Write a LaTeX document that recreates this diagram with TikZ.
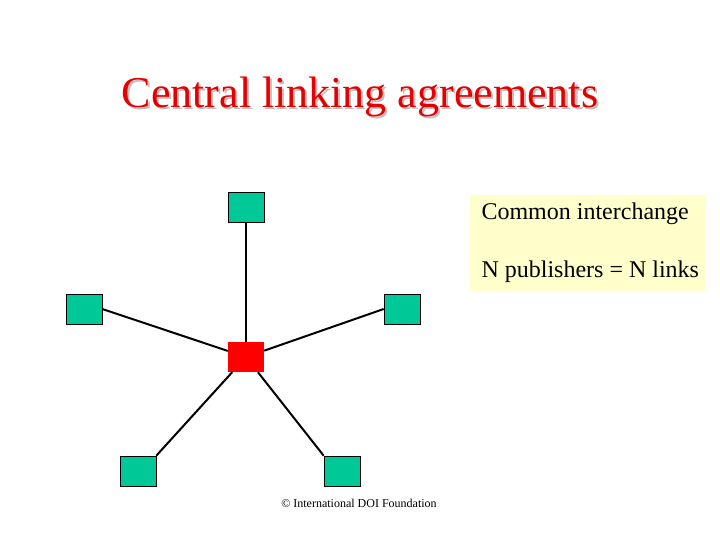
\documentclass[tikz,border=0pt]{standalone}
\usepackage{fontspec}
\setmainfont{Liberation Serif}
\begin{document}
\begin{tikzpicture}[x=1pt,y=-1pt,
  sq/.style={draw=black,line width=0.6pt,fill=teal!60!green!80!cyan,minimum width=36pt,minimum height=30pt,inner sep=0pt},
  sqc/.style={fill=red,minimum width=36pt,minimum height=30pt,inner sep=0pt},
  link/.style={line width=2pt,black}]
\useasboundingbox (0,0) rectangle (720,540);
\definecolor{tealg}{RGB}{0,200,150}
\definecolor{boxy}{RGB}{255,255,204}
\node[text=black!25,font=\fontsize{44}{48}\selectfont] at (362,99) {Central linking agreements};
\node[text=red!90!black,font=\fontsize{44}{48}\selectfont] (title) at (360,97) {Central linking agreements};
\node[fill=boxy,minimum width=236pt,minimum height=96pt,inner sep=0pt] (box) at (588,243) {};
\node[anchor=west,font=\fontsize{24}{28}\selectfont] (t1) at (478,214) {Common interchange};
\node[anchor=west,font=\fontsize{24}{28}\selectfont] (t2) at (478,272) {N publishers = N links};
\tikzset{sq/.append style={fill=tealg}}
\node[sqc] (c) at (246,357) {};
\node[sq] (n1) at (246,207) {};
\node[sq] (n2) at (84,309) {};
\node[sq] (n3) at (402,309) {};
\node[sq] (n4) at (138,471) {};
\node[sq] (n5) at (342,471) {};
\draw[link] (n1) -- (c);
\draw[link] (n2.east) -- (c);
\draw[link] (n3.west) -- (c);
\draw[link] (n4.north east) -- (c);
\draw[link] (n5.north west) -- (c);
\node[font=\fontsize{12}{14}\selectfont] (copy) at (359,503) {© International DOI Foundation};
\end{tikzpicture}
\end{document}
